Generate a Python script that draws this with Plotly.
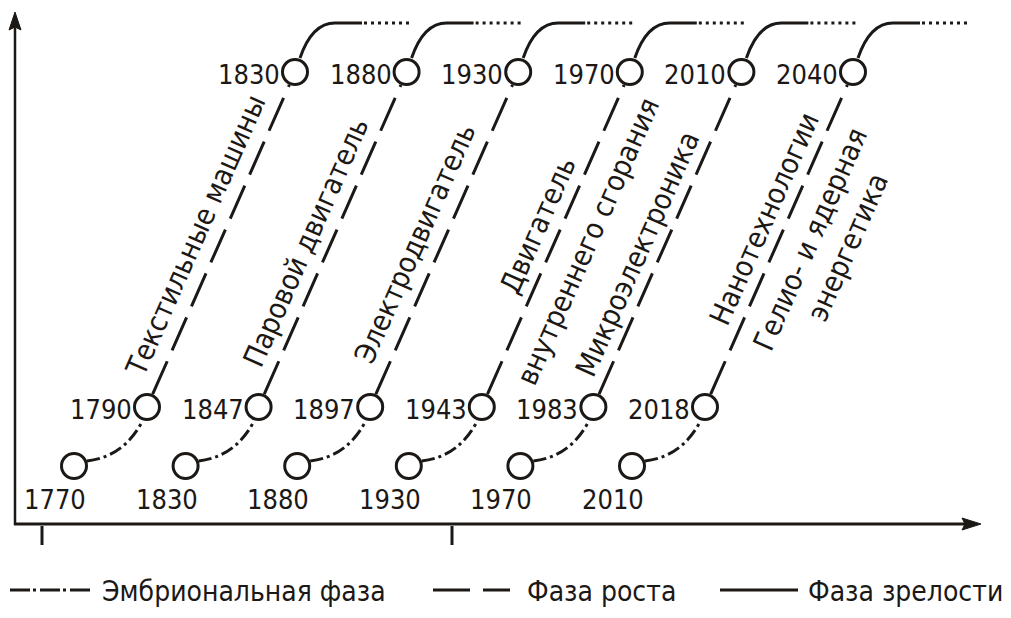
import math
import plotly.graph_objects as go

# ---------------- data ----------------
label_lines = [
    ["Текстильные машины"],
    ["Паровой двигатель"],
    ["Электродвигатель"],
    ["Двигатель", "внутреннего сгорания"],
    ["Микроэлектроника"],
    ["Нанотехнологии", "Гелио- и ядерная", "энергетика"],
]
embryo_years = [1770, 1830, 1880, 1930, 1970, 2010]
growth_years = [1790, 1847, 1897, 1943, 1983, 2018]
maturity_years = [1830, 1880, 1930, 1970, 2010, 2040]
wave_index = [0, 1, 2, 3, 4, 5]
legend_names = ["Эмбриональная фаза", "Фаза роста", "Фаза зрелости"]

# ---------------- layout / geometry (schematic) ----------------
W, H = 1011, 618
PAGE = 8                   # page margin of the html body
SX, SY = 111.6, 100.0      # px per data unit
X0, Y0 = 14.0, 524.0       # page px of origin


def ux(px):
    return (px - X0) / SX


def uy(py):
    return (Y0 - py) / SY


def off(pt, ddx, ddy):
    """offset a data point by screen pixels (y down)."""
    return (pt[0] + ddx / SX, pt[1] - ddy / SY)


INK = "#1b1816"
FONT = "DejaVu Sans Condensed, DejaVu Sans, sans-serif"
FS_YEAR = 27
FS_LABEL = 29
FS_LEG = 28

E_X, E_Y = ux(74), uy(466)     # embryo circle
G_X, G_Y = ux(147), uy(407)    # growth circle
M_X, M_Y = ux(295), uy(72)     # maturity circle

gvx, gvy = 148.0, -335.0
glen = math.hypot(gvx, gvy)
u = (gvx / glen, gvy / glen)           # along growth line (screen px)
n = (-u[1], u[0])                      # normal (to the right/down)
ANGLE = -math.degrees(math.atan2(-gvy, gvx))

label_pos = [
    [(176, -25)],
    [(170, -23)],
    [(168, -25)],
    [(189, -22), (194, 30)],
    [(158, -22)],
    [(196, -22), (196, 29), (204, 66)],
]

shapes = []
annotations = []

E_pts, G_pts, M_pts = [], [], []
for k in wave_index:
    E = (k + E_X, E_Y)
    G = (k + G_X, G_Y)
    M = (k + M_X, M_Y)
    E_pts.append(E); G_pts.append(G); M_pts.append(M)

    # embryonic phase
    p0 = off(E, 13, -5); c = off(E, 49, -9); p2 = off(G, -5, 15)
    shapes.append(dict(type="path", layer="below",
                       path=f"M {p0[0]},{p0[1]} Q {c[0]},{c[1]} {p2[0]},{p2[1]}",
                       line=dict(color=INK, width=3, dash="13px,4px,3px,4px")))
    # growth phase
    s0 = off(G, 14 * u[0], 14 * u[1]); s1 = off(M, -14 * u[0], -14 * u[1])
    shapes.append(dict(type="line", layer="below", x0=s0[0], y0=s0[1], x1=s1[0], y1=s1[1],
                       line=dict(color=INK, width=3, dash="36px,12px")))
    # maturity phase
    q0 = off(M, 5, -14); qc = off(M, 17, -49); q2 = off(M, 40, -49); q3 = off(M, 67, -49)
    shapes.append(dict(type="path", layer="below",
                       path=f"M {q0[0]},{q0[1]} Q {qc[0]},{qc[1]} {q2[0]},{q2[1]} L {q3[0]},{q3[1]}",
                       line=dict(color=INK, width=3)))
    d0 = off(M, 69, -49); d1 = off(M, 116, -49)
    shapes.append(dict(type="line", layer="below", x0=d0[0], y0=d0[1], x1=d1[0], y1=d1[1],
                       line=dict(color=INK, width=3, dash="3px,4px")))

    # year labels
    a = off(E, -19, 33)
    annotations.append(dict(x=a[0], y=a[1], text=str(embryo_years[k]), showarrow=False,
                            xanchor="center", yanchor="middle", font=dict(size=FS_YEAR)))
    a = off(G, -13, 2)
    annotations.append(dict(x=a[0], y=a[1], text=str(growth_years[k]), showarrow=False,
                            xanchor="right", yanchor="middle", font=dict(size=FS_YEAR)))
    a = off(M, -13, 2)
    annotations.append(dict(x=a[0], y=a[1], text=str(maturity_years[k]), showarrow=False,
                            xanchor="right", yanchor="middle", font=dict(size=FS_YEAR)))

    # technology labels along growth line
    for txt, (s, d) in zip(label_lines[k], label_pos[k]):
        a = off(G, s * u[0] + d * n[0], s * u[1] + d * n[1])
        annotations.append(dict(x=a[0], y=a[1], text=txt, showarrow=False, textangle=ANGLE,
                                xanchor="center", yanchor="middle", font=dict(size=FS_LABEL)))

fig = go.Figure()
for pts in (E_pts, G_pts, M_pts):
    fig.add_trace(go.Scatter(x=[p[0] for p in pts], y=[p[1] for p in pts], mode="markers",
                             marker=dict(symbol="circle", size=25, color="white",
                                         line=dict(color=INK, width=3)),
                             hoverinfo="skip", showlegend=False))

# axes with arrows
shapes.append(dict(type="line", x0=ux(15), y0=uy(525), x1=ux(15), y1=uy(26),
                   line=dict(color=INK, width=2.5)))
shapes.append(dict(type="path", fillcolor=INK, line=dict(color=INK, width=1),
                   path=f"M {ux(15)},{uy(12)} L {ux(9)},{uy(30)} L {ux(15)},{uy(27)} L {ux(21)},{uy(30)} Z"))
shapes.append(dict(type="line", x0=ux(14), y0=uy(524), x1=ux(966), y1=uy(524),
                   line=dict(color=INK, width=3)))
shapes.append(dict(type="path", fillcolor=INK, line=dict(color=INK, width=1),
                   path=f"M {ux(981)},{uy(524)} L {ux(962)},{uy(518)} L {ux(965)},{uy(524)} L {ux(962)},{uy(530)} Z"))
for tx in (42, 452):
    shapes.append(dict(type="line", x0=ux(tx), y0=uy(526), x1=ux(tx), y1=uy(545),
                       line=dict(color=INK, width=3)))

# legend (drawn manually)
LY = 590
leg = [(10, 90, "20px,3px,3px,4px", 100), (433, 510, "37px,13px", 525), (720, 798, "solid", 806)]
for (xa, xb, dash, tx), name in zip(leg, legend_names):
    shapes.append(dict(type="line", x0=ux(xa), y0=uy(LY), x1=ux(xb), y1=uy(LY),
                       line=dict(color=INK, width=3, dash=dash)))
    annotations.append(dict(x=ux(tx), y=uy(LY + 1), text=name, showarrow=False,
                            xanchor="left", yanchor="middle", font=dict(size=FS_LEG)))

fig.update_layout(
    width=W, height=H,
    margin=dict(l=0, r=0, t=0, b=0),
    paper_bgcolor="white", plot_bgcolor="white",
    font=dict(family=FONT, size=FS_YEAR, color=INK),
    xaxis=dict(range=[ux(PAGE), ux(PAGE + W)], visible=False, fixedrange=True),
    yaxis=dict(range=[uy(PAGE + H), uy(PAGE)], visible=False, fixedrange=True),
    shapes=shapes, annotations=annotations, showlegend=False,
)

fig.write_html("out.html")
